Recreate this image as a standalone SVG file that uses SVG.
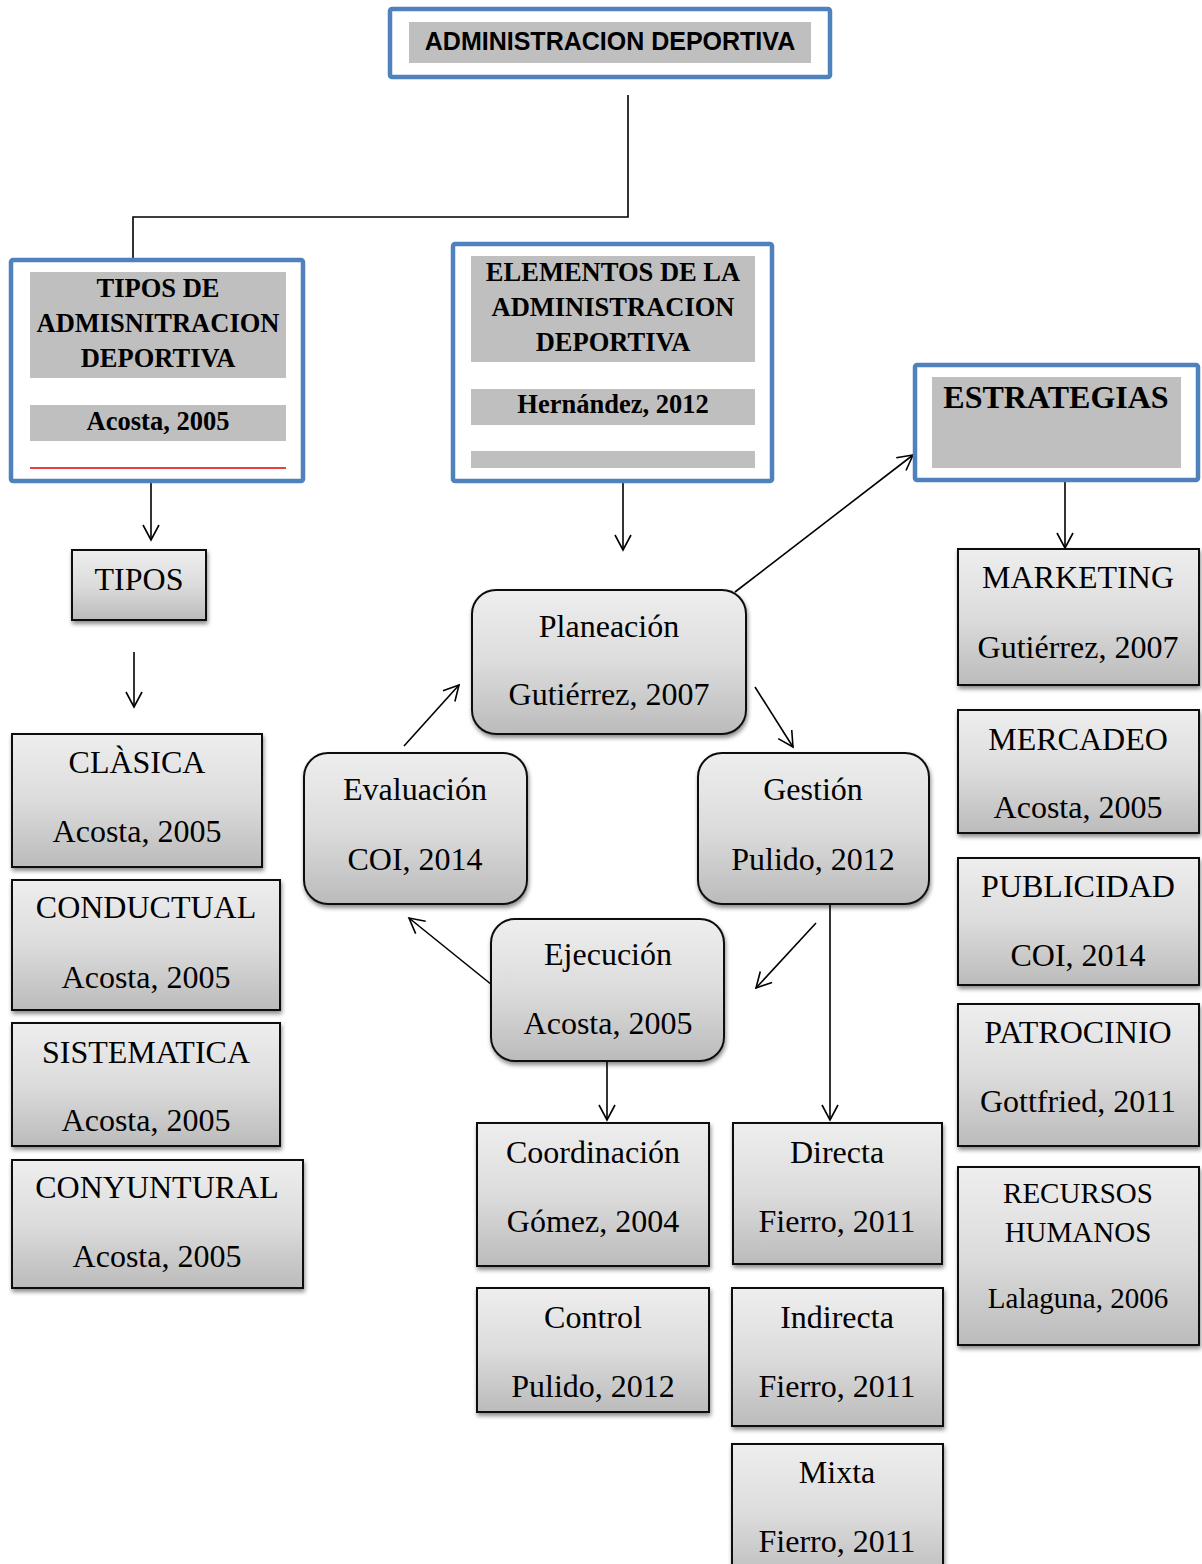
<svg xmlns="http://www.w3.org/2000/svg" width="1202" height="1564" viewBox="0 0 1202 1564">
<defs>
<linearGradient id="g" x1="0" y1="0" x2="0" y2="1">
<stop offset="0" stop-color="#EEEEEE"/>
<stop offset="0.5" stop-color="#DCDCDC"/>
<stop offset="1" stop-color="#BBBBBB"/>
</linearGradient>
<filter id="sh" x="-10%" y="-10%" width="120%" height="130%">
<feDropShadow dx="1" dy="3" stdDeviation="2" flood-color="#000" flood-opacity="0.45"/>
</filter>
<marker id="arr" viewBox="-16 -10 18 20" refX="0" refY="0" markerWidth="18" markerHeight="20" markerUnits="userSpaceOnUse" orient="auto">
<path d="M-15,-8 L0,0 L-15,8" fill="none" stroke="#000" stroke-width="1.6"/>
</marker>
</defs>
<style>
.blue{fill:#fff;stroke:#4F81BD;stroke-width:4.5}
.gray{fill:#BFBFBF}
.box{fill:url(#g);stroke:#111;stroke-width:2;filter:url(#sh)}
.t{font-family:"Liberation Serif","Times New Roman",serif;font-size:32px;fill:#000;text-anchor:middle}
.tb{font-family:"Liberation Serif","Times New Roman",serif;font-size:26.5px;font-weight:bold;fill:#000;text-anchor:middle}
.c{fill:none;stroke:#000;stroke-width:1.6}
.ca{fill:none;stroke:#000;stroke-width:1.6;marker-end:url(#arr)}
</style>
<rect width="1202" height="1564" fill="#fff"/>

<g id="connectors">
<polyline class="c" points="628,95 628,217 133,217 133,258"/>
<line class="ca" x1="151" y1="482" x2="151" y2="540"/>
<line class="ca" x1="623" y1="481" x2="623" y2="550"/>
<line class="ca" x1="1065" y1="481" x2="1065" y2="548"/>
<line class="ca" x1="134" y1="652" x2="134" y2="707"/>
<line class="ca" x1="735" y1="592" x2="913" y2="455"/>
<line class="ca" x1="404" y1="746" x2="459" y2="685"/>
<line class="ca" x1="755" y1="687" x2="793" y2="747"/>
<line class="ca" x1="816" y1="923" x2="756" y2="988"/>
<line class="ca" x1="492" y1="985" x2="409" y2="918"/>
<line class="ca" x1="607" y1="1062" x2="607" y2="1120"/>
<line class="ca" x1="830" y1="905" x2="830" y2="1120"/>
</g>

<g id="n-admin">
<rect class="blue" x="390" y="9" width="440" height="68" rx="2"/>
<rect class="gray" x="409" y="22" width="402" height="41"/>
<text x="610" y="50" style="font-family:'Liberation Sans',Arial,sans-serif;font-size:25px;font-weight:bold;text-anchor:middle">ADMINISTRACION DEPORTIVA</text>
</g>

<g id="n-tipos-header">
<rect class="blue" x="11" y="260" width="292" height="221" rx="2"/>
<rect class="gray" x="30" y="272" width="256" height="106"/>
<text class="tb" x="158" y="297">TIPOS DE</text>
<text class="tb" x="158" y="332">ADMISNITRACION</text>
<text class="tb" x="158" y="367">DEPORTIVA</text>
<rect class="gray" x="30" y="405" width="256" height="36"/>
<text class="tb" x="158" y="430">Acosta, 2005</text>
<line x1="30" y1="468" x2="286" y2="468" stroke="#E00000" stroke-width="1.6"/>
</g>

<g id="n-elementos-header">
<rect class="blue" x="453" y="244" width="319" height="237" rx="2"/>
<rect class="gray" x="471" y="256" width="284" height="106"/>
<text class="tb" x="613" y="281">ELEMENTOS DE LA</text>
<text class="tb" x="613" y="316">ADMINISTRACION</text>
<text class="tb" x="613" y="351">DEPORTIVA</text>
<rect class="gray" x="471" y="389" width="284" height="36"/>
<text class="tb" x="613" y="413">Hernández, 2012</text>
<rect class="gray" x="471" y="451" width="284" height="17"/>
</g>

<g id="n-estrategias">
<rect class="blue" x="915" y="365" width="283" height="115" rx="2"/>
<rect class="gray" x="932" y="377" width="249" height="91"/>
<text class="tb" x="1056" y="408" style="font-size:32px">ESTRATEGIAS</text>
</g>

<g id="n-tipos">
<rect class="box" x="72" y="550" width="134" height="70"/>
<text class="t" x="139" y="590">TIPOS</text>
</g>
<g id="n-clasica">
<rect class="box" x="12" y="734" width="250" height="133"/>
<text class="t" x="137" y="773">CLÀSICA</text>
<text class="t" x="137" y="842">Acosta, 2005</text>
</g>
<g id="n-conductual">
<rect class="box" x="12" y="880" width="268" height="130"/>
<text class="t" x="146" y="918">CONDUCTUAL</text>
<text class="t" x="146" y="988">Acosta, 2005</text>
</g>
<g id="n-sistematica">
<rect class="box" x="12" y="1023" width="268" height="123"/>
<text class="t" x="146" y="1063">SISTEMATICA</text>
<text class="t" x="146" y="1131">Acosta, 2005</text>
</g>
<g id="n-conyuntural">
<rect class="box" x="12" y="1160" width="291" height="128"/>
<text class="t" x="157" y="1198">CONYUNTURAL</text>
<text class="t" x="157" y="1267">Acosta, 2005</text>
</g>

<g id="n-planeacion">
<rect class="box" x="472" y="590" width="274" height="144" rx="24"/>
<text class="t" x="609" y="637">Planeación</text>
<text class="t" x="609" y="705">Gutiérrez, 2007</text>
</g>
<g id="n-evaluacion">
<rect class="box" x="304" y="753" width="223" height="151" rx="24"/>
<text class="t" x="415" y="800">Evaluación</text>
<text class="t" x="415" y="870">COI, 2014</text>
</g>
<g id="n-gestion">
<rect class="box" x="698" y="753" width="231" height="151" rx="24"/>
<text class="t" x="813" y="800">Gestión</text>
<text class="t" x="813" y="870">Pulido, 2012</text>
</g>
<g id="n-ejecucion">
<rect class="box" x="491" y="919" width="233" height="142" rx="24"/>
<text class="t" x="608" y="965">Ejecución</text>
<text class="t" x="608" y="1034">Acosta, 2005</text>
</g>

<g id="n-coordinacion">
<rect class="box" x="477" y="1123" width="232" height="143"/>
<text class="t" x="593" y="1163">Coordinación</text>
<text class="t" x="593" y="1232">Gómez, 2004</text>
</g>
<g id="n-control">
<rect class="box" x="477" y="1288" width="232" height="124"/>
<text class="t" x="593" y="1328">Control</text>
<text class="t" x="593" y="1397">Pulido, 2012</text>
</g>
<g id="n-directa">
<rect class="box" x="733" y="1123" width="209" height="141"/>
<text class="t" x="837" y="1163">Directa</text>
<text class="t" x="837" y="1232">Fierro, 2011</text>
</g>
<g id="n-indirecta">
<rect class="box" x="732" y="1288" width="211" height="138"/>
<text class="t" x="837" y="1328">Indirecta</text>
<text class="t" x="837" y="1397">Fierro, 2011</text>
</g>
<g id="n-mixta">
<rect class="box" x="732" y="1444" width="211" height="140"/>
<text class="t" x="837" y="1483">Mixta</text>
<text class="t" x="837" y="1552">Fierro, 2011</text>
</g>

<g id="n-marketing">
<rect class="box" x="958" y="549" width="241" height="136"/>
<text class="t" x="1078" y="588">MARKETING</text>
<text class="t" x="1078" y="658">Gutiérrez, 2007</text>
</g>
<g id="n-mercadeo">
<rect class="box" x="958" y="710" width="241" height="123"/>
<text class="t" x="1078" y="750">MERCADEO</text>
<text class="t" x="1078" y="818">Acosta, 2005</text>
</g>
<g id="n-publicidad">
<rect class="box" x="958" y="858" width="241" height="127"/>
<text class="t" x="1078" y="897">PUBLICIDAD</text>
<text class="t" x="1078" y="966">COI, 2014</text>
</g>
<g id="n-patrocinio">
<rect class="box" x="958" y="1004" width="241" height="142"/>
<text class="t" x="1078" y="1043">PATROCINIO</text>
<text class="t" x="1078" y="1112">Gottfried, 2011</text>
</g>
<g id="n-recursos">
<rect class="box" x="958" y="1167" width="241" height="178"/>
<text class="t" x="1078" y="1203" style="font-size:29px">RECURSOS</text>
<text class="t" x="1078" y="1242" style="font-size:29px">HUMANOS</text>
<text class="t" x="1078" y="1308" style="font-size:29px">Lalaguna, 2006</text>
</g>
</svg>
